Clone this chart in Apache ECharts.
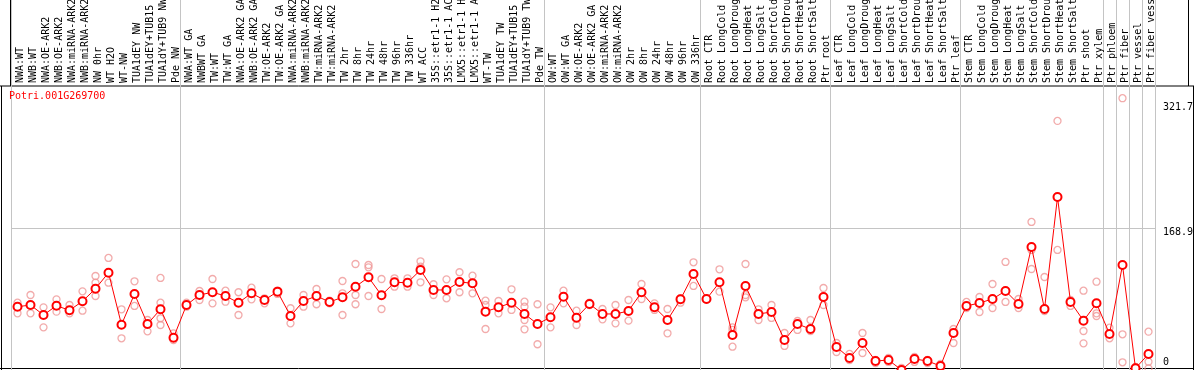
<!DOCTYPE html>
<html>
<head>
<meta charset="utf-8">
<script src="https://cdn.jsdelivr.net/npm/echarts@6.0.0/dist/echarts.min.js"></script>
<style>
  html, body { margin: 0; padding: 0; background: #fff; }
  #chart { width: 1194px; height: 370px; }
</style>
</head>
<body>
<div id="chart"></div>
<script>
const geneId = 'Potri.001G269700'

const categories = [
  'NWA:WT', 'NWB:WT', 'NWA:OE-ARK2', 'NWB:OE-ARK2', 'NWA:miRNA-ARK2', 'NWB:miRNA-ARK2',
  'NW 0hr', 'WT H2O', 'WT-NW', 'TUA1dEY NW', 'TUA1dEY+TUB15', 'TUA1dY+TUB9 NW', 'Pde NW',
  'NWA:WT GA', 'NWBWT GA', 'TW:WT', 'TW:WT GA', 'NWA:OE-ARK2 GA', 'NWB:OE-ARK2 GA',
  'TW:OE-ARK2', 'TW:OE-ARK2 GA', 'NWA:miRNA-ARK2', 'NWB:miRNA-ARK2', 'TW:miRNA-ARK2',
  'TW:miRNA-ARK2', 'TW 2hr', 'TW 8hr', 'TW 24hr', 'TW 48hr', 'TW 96hr', 'TW 336hr', 'WT ACC',
  '35S::etr1-1 H2', '35S::etr1-1 AC', 'LMX5::etr1-1 H', 'LMX5::etr1-1 A', 'WT-TW',
  'TUA1dEY TW', 'TUA1dEY+TUB15', 'TUA1dY+TUB9 TW', 'Pde TW',
  'OW:WT', 'OW:WT GA', 'OW:OE-ARK2', 'OW:OE-ARK2 GA', 'OW:miRNA-ARK2', 'OW:miRNA-ARK2',
  'OW 2hr', 'OW 8hr', 'OW 24hr', 'OW 48hr', 'OW 96hr', 'OW 336hr',
  'Root CTR', 'Root LongCold', 'Root LongDroug', 'Root LongHeat', 'Root LongSalt',
  'Root ShortCold', 'Root ShortDrou', 'Root ShortHeat', 'Root ShortSalt', 'Ptr root',
  'Leaf CTR', 'Leaf LongCold', 'Leaf LongDroug', 'Leaf LongHeat', 'Leaf LongSalt',
  'Leaf ShortCold', 'Leaf ShortDrou', 'Leaf ShortHeat', 'Leaf ShortSalt', 'Ptr leaf',
  'Stem CTR', 'Stem LongCold', 'Stem LongDroug', 'Stem LongHeat', 'Stem LongSalt',
  'Stem ShortCold', 'Stem ShortDrou', 'Stem ShortHeat', 'Stem ShortSalt', 'Ptr shoot',
  'Ptr xylem', 'Ptr phloem', 'Ptr fiber', 'Ptr vessel', 'Ptr fiber vess'
]

// mean expression per sample
const means = [
  76.7, 78.7, 67.0, 77.9, 72.5, 83.1, 97.9, 116.7, 55.6, 91.7, 56.4, 73.7, 40.3,
  78.7, 90.5, 93.7, 89.3, 81.4, 92.5, 84.6, 94.4, 65.8, 83.4, 89.3, 82.3, 87.8, 100.2,
  111.3, 90.1, 105.4, 104.9, 119.9, 96.4, 96.4, 105.8, 104.2, 70.9, 76.0, 81.4, 68.2, 56.4,
  64.3, 88.5, 63.8, 79.9, 68.2, 68.2, 71.7, 93.7, 76.0, 61.1, 85.4, 115.2,
  85.8, 105.4, 43.5, 101.1, 68.2, 70.5, 37.6, 56.4, 50.5, 88.1,
  29.4, 16.5, 34.1, 12.9, 14.1, 2.4, 15.3, 12.9, 7.1, 45.8,
  77.6, 81.1, 85.8, 95.2, 79.9, 146.9, 74.0, 205.6, 82.3, 60.3, 80.7,
  44.7, 125.7, 4.3, 21.2
]

// single replicates per sample
const replicates = [
  [81.4, 76.7, 69.0], [90.5, 69.0, 78.7], [76.0, 52.5, 67.0], [85.4, 70.9], [78.7, 69.0],
  [94.8, 72.0], [112.8, 104.9, 89.3], [134.0, 104.9], [73.7, 39.6], [106.6, 77.6],
  [61.1, 47.8], [110.5, 81.4, 63.1, 55.2], [45.5, 37.6],
  [81.4, 76.7], [95.2, 84.6], [109.3, 80.7], [95.5, 82.6], [93.7, 67.0], [99.1, 85.4],
  [86.6, 80.7], [95.5, 91.7], [74.9, 57.2], [90.5, 76.7], [97.5, 79.6], [83.8, 80.7],
  [106.9, 92.5, 67.0], [126.9, 90.5, 79.6], [125.7, 123.0, 89.3], [109.3, 74.0],
  [110.1, 100.2], [110.1, 100.2], [130.1, 123.7, 105.4], [103.1, 90.5], [108.9, 86.6],
  [117.2, 93.7], [113.2, 92.5], [83.8, 78.7, 50.5], [83.4, 69.0], [97.2, 72.9],
  [82.6, 76.7, 61.1, 50.2], [79.6, 32.6],
  [76.0, 52.5], [95.5, 80.7], [72.0, 55.2], [81.4, 78.7], [74.0, 61.9], [78.7, 57.2],
  [84.6, 60.3], [103.4, 85.8], [80.7, 72.9], [74.0, 45.5], [86.6, 81.4], [128.9, 101.1],
  [86.6, 85.0], [120.7, 94.4], [52.5, 49.4, 29.7], [126.9, 90.5, 87.8], [73.7, 61.1],
  [78.7, 63.5], [45.8, 30.6], [59.9, 49.4], [61.1, 48.2], [98.7, 78.7],
  [34.1, 23.5], [21.2, 14.1], [45.8, 22.3], [14.1, 10.6], [16.5, 11.8], [4.7, 0.5],
  [17.6, 11.8], [14.1, 10.6], [9.4, 3.5], [50.5, 34.1],
  [82.3, 75.2], [88.1, 70.5], [103.4, 75.2], [129.3, 82.3], [85.8, 75.2],
  [176.3, 143.4, 121.0], [111.6, 71.7], [295.0, 143.4], [84.6, 77.6], [95.5, 48.2, 33.7],
  [106.1, 69.0, 65.8], [52.1, 39.6], [321.7, 44.3, 11.4], [6.0, 2.5], [47.4, 12.1, 4.3]
]

const yTicks = [0, 168.9, 321.7]
// first sample index of each group of samples
const groupStarts = [0, 13, 41, 53, 63, 73, 84, 85, 86, 87]

const repData = []
replicates.forEach((vals, i) => {
  vals.forEach((v) => repData.push([i, v]))
})

const monoFont = 'DejaVu Sans Mono'
var myChart = echarts.init(document.getElementById('chart'))

var option = {
  animation: false,
  backgroundColor: '#fff',
  title: {
    text: geneId,
    left: 9,
    top: 91,
    padding: 0,
    textStyle: { color: '#ff0000', fontFamily: monoFont, fontSize: 10, fontWeight: 'normal' },
  },
  grid: {
    left: 11,
    top: 0,
    width: 1144,
    height: 372,
    outerBoundsMode: 'none',
  },
  xAxis: {
    type: 'category',
    data: categories,
    position: 'top',
    offset: -86,
    boundaryGap: true,
    axisLine: { show: false },
    axisTick: { show: false },
    axisLabel: {
      interval: 0,
      rotate: 90,
      margin: 3,
      verticalAlign: 'top',
      lineHeight: 6,
      hideOverlap: false,
      color: '#000',
      fontFamily: monoFont,
      fontSize: 10,
    },
    splitLine: {
      show: true,
      interval: (idx) => groupStarts.indexOf(idx) >= 0,
      lineStyle: { color: '#c4c4c4', width: 1 },
    },
  },
  yAxis: {
    type: 'value',
    position: 'right',
    min: 0,
    max: 437.1,
    axisLine: { show: false },
    axisTick: { show: false },
    splitLine: { show: false },
    axisLabel: {
      customValues: yTicks,
      margin: 8,
      color: '#000',
      fontFamily: monoFont,
      fontSize: 10,
      verticalAlign: 'middle',
      formatter: function (v) {
        if (v === yTicks[0]) return '{lo|' + v + '}'
        if (v === yTicks[1]) return '{mid|' + v + '}'
        return '{hi|' + v + '}'
      },
      rich: {
        lo: { padding: [0, 0, 20, 0], fontFamily: monoFont, fontSize: 10, color: '#000' },
        mid: { padding: [8, 0, 0, 0], fontFamily: monoFont, fontSize: 10, color: '#000' },
        hi: { padding: [18, 0, 0, 0], fontFamily: monoFont, fontSize: 10, color: '#000' },
      },
    },
  },
  graphic: [
    // frame lines round header and plot
    { type: 'line', shape: { x1: 0, y1: 86, x2: 1194, y2: 86 }, style: { stroke: '#000', lineWidth: 1 }, silent: true },
    { type: 'line', shape: { x1: 0, y1: 368.5, x2: 1194, y2: 368.5 }, style: { stroke: '#000', lineWidth: 1 }, silent: true },
    { type: 'line', shape: { x1: 1.5, y1: 86, x2: 1.5, y2: 370 }, style: { stroke: '#000', lineWidth: 1 }, silent: true },
    { type: 'line', shape: { x1: 1193.5, y1: 86, x2: 1193.5, y2: 370 }, style: { stroke: '#000', lineWidth: 1 }, silent: true },
    { type: 'line', shape: { x1: 10.5, y1: 0, x2: 10.5, y2: 86 }, style: { stroke: '#000', lineWidth: 1 }, silent: true },
    { type: 'line', shape: { x1: 1188.5, y1: 0, x2: 1188.5, y2: 86 }, style: { stroke: '#000', lineWidth: 1 }, silent: true },
  ],
  series: [
    {
      name: 'replicates',
      type: 'scatter',
      data: repData,
      symbol: 'circle',
      symbolSize: 7,
      silent: true,
      itemStyle: { color: 'rgba(0,0,0,0)', borderColor: '#ef9696', borderWidth: 1.3 },
      z: 2,
    },
    {
      name: 'mean',
      type: 'line',
      data: means,
      symbol: 'emptyCircle',
      symbolSize: 8,
      showAllSymbol: true,
      silent: true,
      lineStyle: { color: '#ff0000', width: 1 },
      itemStyle: { color: '#ff0000', borderColor: '#ff0000', borderWidth: 2 },
      z: 3,
      markLine: {
        silent: true,
        symbol: ['none', 'none'],
        label: { show: false },
        lineStyle: { color: '#c4c4c4', type: 'solid', width: 1 },
        data: [{ yAxis: yTicks[1] }],
      },
    },
  ],
}

option && myChart.setOption(option)
</script>
</body>
</html>
